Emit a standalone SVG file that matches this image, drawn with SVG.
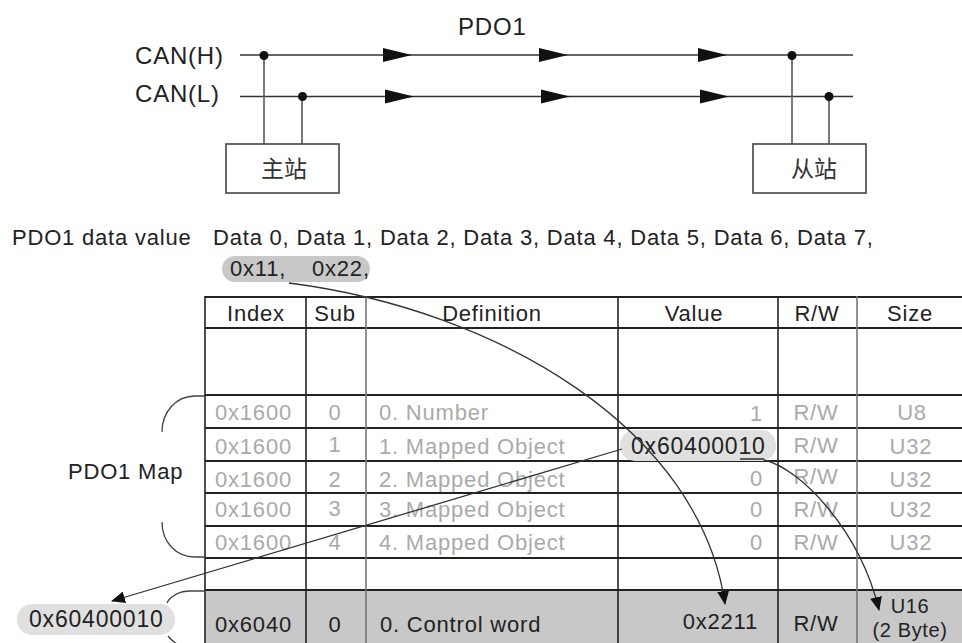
<svg xmlns="http://www.w3.org/2000/svg" xmlns:xlink="http://www.w3.org/1999/xlink" width="962" height="643" viewBox="0 0 962 643">
<defs>
<style>
text{font-family:"Liberation Sans","Noto Sans CJK SC",Arial,sans-serif;fill:#222;}
.t{font-size:22px;letter-spacing:0.8px;}
.big{font-size:24px;letter-spacing:0.8px;}
.sm{font-size:20px;letter-spacing:0.6px;}
.cjk{font-family:"Noto Sans CJK SC","Liberation Sans",sans-serif;font-size:23px;fill:#333;}
.g{fill:#aaa;}
.m{text-anchor:middle;}
.e{text-anchor:end;}
.bus{stroke:#333;stroke-width:1.6;fill:none;}
.drop{stroke:#555;stroke-width:1.6;fill:none;}
.box{fill:#fff;stroke:#444;stroke-width:1.6;}
.hl{stroke:#222;stroke-width:1.8;}
.vl{stroke:#222;stroke-width:1.6;}
.vg{stroke:#777;stroke-width:1.6;}
.conn{stroke:#333;stroke-width:1.3;fill:none;marker-end:url(#ah);}
.brace{stroke:#444;stroke-width:1.3;fill:none;}
</style>
<path id="tri" d="M0,-7 L29,0 L0,7 Z" fill="#111"/>
<marker id="ah" markerWidth="14" markerHeight="12" refX="13" refY="6" orient="auto" markerUnits="userSpaceOnUse">
<path d="M0,0 L14,6 L0,12 Z" fill="#111"/>
</marker>
</defs>
<rect width="962" height="643" fill="#fff"/>

<g id="bus">
<text class="big" x="458" y="35">PDO1</text>
<text class="big" x="135" y="64">CAN(H)</text>
<text class="big" x="135" y="102">CAN(L)</text>
<line class="bus" x1="240" y1="55" x2="853" y2="55"/>
<line class="bus" x1="240" y1="96.5" x2="853" y2="96.5"/>
<use xlink:href="#tri" x="383" y="55"/>
<use xlink:href="#tri" x="539" y="55"/>
<use xlink:href="#tri" x="698" y="55"/>
<use xlink:href="#tri" x="385" y="96.5"/>
<use xlink:href="#tri" x="541" y="96.5"/>
<use xlink:href="#tri" x="700" y="96.5"/>
</g>

<g id="master">
<line class="drop" x1="264" y1="55" x2="264" y2="144"/>
<line class="drop" x1="302" y1="96.5" x2="302" y2="144"/>
<circle cx="264" cy="55.5" r="4.5" fill="#111"/>
<circle cx="302.5" cy="96.5" r="4.5" fill="#111"/>
<rect class="box" x="226" y="144" width="113" height="49"/>
<text class="cjk m" x="284" y="177">主站</text>
</g>

<g id="slave">
<line class="drop" x1="792" y1="55" x2="792" y2="144"/>
<line class="drop" x1="829" y1="96.5" x2="829" y2="144"/>
<circle cx="792" cy="55.5" r="4.5" fill="#111"/>
<circle cx="829" cy="96.5" r="4.5" fill="#111"/>
<rect class="box" x="753" y="144" width="113" height="49"/>
<text class="cjk m" x="814" y="177">从站</text>
</g>

<g id="data-value">
<text class="t" x="12" y="245">PDO1 data value</text>
<text class="t" x="213" y="245">Data 0, Data 1, Data 2, Data 3, Data 4, Data 5, Data 6, Data 7,</text>
<rect x="222" y="256" width="148" height="26" rx="13" fill="#c8c8c8"/>
<text class="t" x="230" y="276">0x11,</text>
<text class="t" x="312" y="276">0x22,</text>
</g>

<g id="table">
<rect x="205" y="590" width="760" height="60" fill="#c8c8c8"/>
<line class="hl" x1="205" y1="297" x2="962" y2="297" style="stroke-width:2.2"/>
<line class="hl" x1="205" y1="328" x2="962" y2="328"/>
<line class="hl" x1="205" y1="395" x2="962" y2="395"/>
<line class="hl" x1="205" y1="428" x2="962" y2="428"/>
<line class="hl" x1="205" y1="461" x2="962" y2="461"/>
<line class="hl" x1="205" y1="493" x2="962" y2="493"/>
<line class="hl" x1="205" y1="526" x2="962" y2="526"/>
<line class="hl" x1="205" y1="558" x2="962" y2="558"/>
<line class="hl" x1="205" y1="590" x2="962" y2="590" style="stroke-width:2.2"/>
<line class="vl" x1="205" y1="296" x2="205" y2="643"/>
<line class="vl" x1="306" y1="296" x2="306" y2="643"/>
<line class="vg" x1="366" y1="296" x2="366" y2="643"/>
<line class="vl" x1="618" y1="296" x2="618" y2="643"/>
<line class="vl" x1="778" y1="296" x2="778" y2="643"/>
<line class="vg" x1="857" y1="296" x2="857" y2="643"/>

<text class="t m" x="256" y="321">Index</text>
<text class="t m" x="335" y="321">Sub</text>
<text class="t m" x="492" y="321">Definition</text>
<text class="t m" x="694" y="321">Value</text>
<text class="t m" x="817" y="321">R/W</text>
<text class="t m" x="910" y="321">Size</text>

<g class="g">
<text class="t g" x="215" y="420">0x1600</text>
<text class="t g m" x="335" y="420">0</text>
<text class="t g" x="379" y="420">0. Number</text>
<text class="t g e" x="763" y="421">1</text>
<text class="t g m" x="816" y="420">R/W</text>
<text class="t g m" x="912" y="420">U8</text>

<text class="t g" x="215" y="454">0x1600</text>
<text class="t g m" x="335" y="452">1</text>
<text class="t g" x="379" y="454">1. Mapped Object</text>
<text class="t g m" x="816" y="453">R/W</text>
<text class="t g m" x="911" y="454">U32</text>

<text class="t g" x="215" y="487">0x1600</text>
<text class="t g m" x="335" y="487">2</text>
<text class="t g" x="379" y="487">2. Mapped Object</text>
<text class="t g e" x="763" y="486">0</text>
<text class="t g m" x="816" y="484">R/W</text>
<text class="t g m" x="911" y="487">U32</text>

<text class="t g" x="215" y="517">0x1600</text>
<text class="t g m" x="335" y="516">3</text>
<text class="t g" x="379" y="517">3. Mapped Object</text>
<text class="t g e" x="763" y="517">0</text>
<text class="t g m" x="816" y="517">R/W</text>
<text class="t g m" x="911" y="517">U32</text>

<text class="t g" x="215" y="550">0x1600</text>
<text class="t g m" x="335" y="550">4</text>
<text class="t g" x="379" y="550">4. Mapped Object</text>
<text class="t g e" x="763" y="550">0</text>
<text class="t g m" x="816" y="550">R/W</text>
<text class="t g m" x="911" y="550">U32</text>
</g>

<text class="t" x="215" y="632">0x6040</text>
<text class="t m" x="335" y="632">0</text>
<text class="t" x="380" y="632">0. Control word</text>
<text class="t e" x="758" y="629">0x2211</text>
<text class="t m" x="816" y="631">R/W</text>
<text class="sm m" x="910" y="613">U16</text>
<text class="sm m" x="910" y="637">(2 Byte)</text>
</g>

<g id="mapped-value">
<rect x="620" y="430" width="156" height="31" rx="15" fill="#e0e0e0"/>
<text class="big" x="631" y="454" style="font-size:23px">0x60400010</text>
<line x1="740" y1="459" x2="764" y2="459" stroke="#222" stroke-width="1.4"/>
</g>

<g id="pdo1-map">
<path class="brace" d="M205,396 L195,396 C176,396 162,412 162,432"/>
<path class="brace" d="M162,522 C162,542 176,557 195,557 L205,557"/>
<text class="t" x="68" y="479">PDO1 Map</text>
<path class="brace" d="M205,591 L190,591 C180,591 170,596 167,603"/>
<path class="brace" d="M168,636 C171,640 175,643 180,646"/>
</g>

<g id="object-pill">
<rect x="17" y="604" width="158" height="31" rx="15" fill="#e0e0e0"/>
<text class="t" x="29" y="627" style="font-size:23px">0x60400010</text>
</g>

<g id="connectors">
<path class="conn" d="M289,283 C500,310 700,430 725,604"/>
<path class="conn" d="M622,449 L112,601"/>
<path class="conn" d="M764,460 C800,468 860,530 879,610"/>
</g>
</svg>
